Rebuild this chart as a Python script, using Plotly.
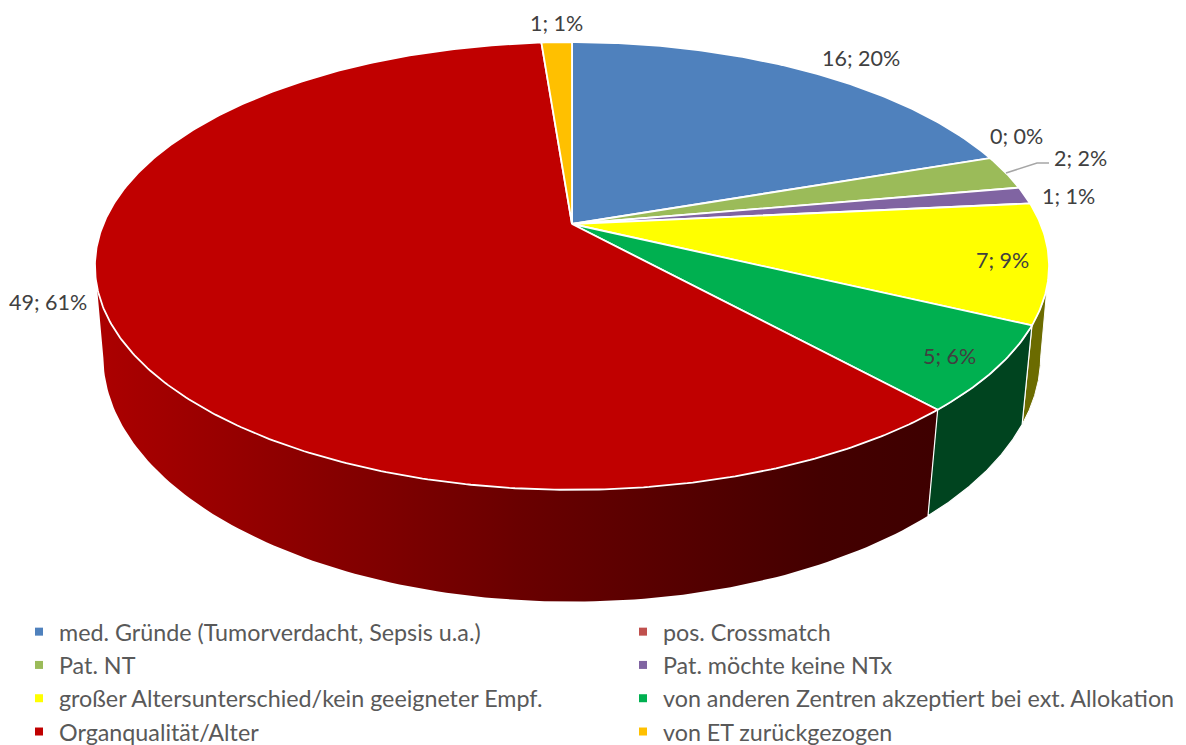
import numpy as np
import plotly.graph_objects as go

categories = ["med. Gründe (Tumorverdacht, Sepsis u.a.)", "pos. Crossmatch", "Pat. NT",
              "Pat. möchte keine NTx", "großer Altersunterschied/kein geeigneter Empf.",
              "von anderen Zentren akzeptiert bei ext. Allokation", "Organqualität/Alter",
              "von ET zurückgezogen"]
values = [16, 0, 2, 1, 7, 5, 49, 1]
percents = [20, 0, 2, 1, 9, 6, 61, 1]
colors = ["#4F81BD", "#C0504D", "#9BBB59", "#8064A2", "#FFFF00", "#00B050", "#C00000", "#FFC000"]
label_pos = [(861, 58), (1016, 136), (1080, 158), (1068, 196), (1002, 260), (949, 356), (48, 302), (556, 23)]

FONT = "Lato"
total = sum(values)
edges = np.cumsum([0] + values) / total * 2 * np.pi


def top(t):
    X, Y = np.sin(t), np.cos(t)
    d = 1 + 0.1875 * Y
    return 572 + 468.6 * X / d, 224 - 216 * Y / d


def bottom(t):
    X, Y = np.sin(t), np.cos(t)
    d = 1 + 0.174 * Y
    return 572 + 461.5 * X / d, 313.5 - 238 * Y / d


def wall(t0, t1):
    t = np.linspace(t0, t1, 120)
    xa, ya = top(t)
    xb, yb = bottom(t)
    return np.r_[xa, xb[::-1], xa[0]], np.r_[ya, yb[::-1], ya[0]]


fig = go.Figure()

# side walls (visible part, up to the silhouette)
x, y = wall(edges[6], np.radians(259.6))
fig.add_trace(go.Scatter(
    x=x, y=y, mode="lines", fill="toself", line=dict(width=0), showlegend=False, hoverinfo="skip",
    fillgradient=dict(type="horizontal", colorscale=[[0, "#AC0000"], [0.24, "#8C0000"], [0.5, "#6A0000"],
                                                     [0.86, "#440000"], [1, "#3E0000"]])))
x, y = wall(np.radians(100.4), edges[5])
fig.add_trace(go.Scatter(x=x, y=y, mode="lines", fill="toself", fillcolor="#6B6B00",
                         line=dict(color="white", width=1), showlegend=False, hoverinfo="skip"))
x, y = wall(edges[5], edges[6])
fig.add_trace(go.Scatter(x=x, y=y, mode="lines", fill="toself", fillcolor="#00441F",
                         line=dict(color="white", width=1.2), showlegend=False, hoverinfo="skip"))

# top face
for i, v in enumerate(values):
    if v == 0:
        continue
    t = np.linspace(edges[i], edges[i + 1], max(8, int(v * 8)))
    xa, ya = top(t)
    cx, cy = 572, 224
    fig.add_trace(go.Scatter(x=np.r_[cx, xa, cx], y=np.r_[cy, ya, cy], mode="lines", fill="toself",
                             fillcolor=colors[i], line=dict(color="white", width=1.8),
                             showlegend=False, hoverinfo="skip"))

# legend entries: two columns, each its own legend
for i, (name, c) in enumerate(zip(categories, colors)):
    fig.add_trace(go.Scatter(x=[None], y=[None], mode="markers", name=name,
                             legend="legend" if i % 2 == 0 else "legend2",
                             marker=dict(symbol="square", size=8, color=c)))

# leader line
fig.add_trace(go.Scatter(x=[1006, 1037, 1049], y=[173, 163, 163], mode="lines",
                         line=dict(color="#A6A6A6", width=1.5), showlegend=False, hoverinfo="skip"))

# data labels
for v, p, (lx, ly) in zip(values, percents, label_pos):
    fig.add_annotation(x=lx, y=ly, text=f"{v}; {p}%", showarrow=False, xanchor="center", yanchor="middle",
                       font=dict(family=FONT, size=21.5, color="#404040"))

legend_style = dict(xanchor="left", y=1 - 610 / 745, yanchor="top", traceorder="normal",
                    font=dict(family=FONT, size=23.3, color="#595959"), bgcolor="rgba(0,0,0,0)")
fig.update_layout(
    width=1186, height=745, margin=dict(l=0, r=0, t=0, b=0, autoexpand=False),
    paper_bgcolor="white", plot_bgcolor="white",
    xaxis=dict(range=[0, 1186], visible=False, fixedrange=True),
    yaxis=dict(range=[745, 0], visible=False, fixedrange=True),
    legend=dict(x=19 / 1186, **legend_style),
    legend2=dict(x=623 / 1186, **legend_style),
)
fig.write_html("out.html", config={"displayModeBar": False},
               post_script="document.body.style.margin='0';document.body.style.overflow='hidden';")
